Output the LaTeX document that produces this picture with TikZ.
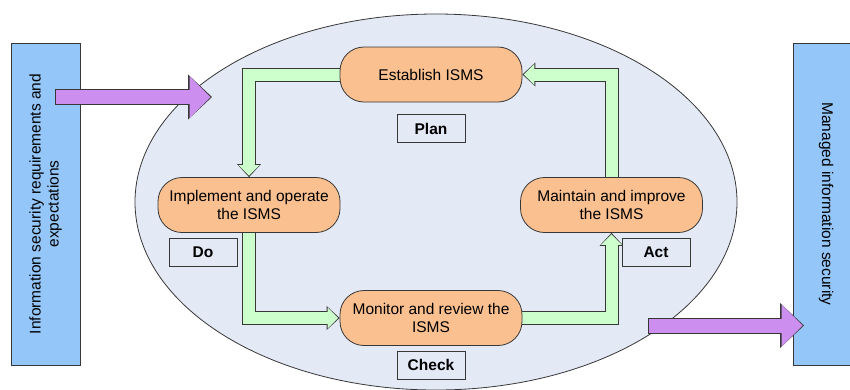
\documentclass[tikz,border=0pt]{standalone}
\usepackage{fontspec}
\setmainfont{Liberation Sans}
\usetikzlibrary{arrows.meta,positioning}
\pgfdeclarelayer{back}
\pgfdeclarelayer{mid}
\pgfsetlayers{back,mid,main}
\definecolor{oval}{RGB}{228,233,246}
\definecolor{stageorange}{RGB}{250,192,144}
\definecolor{cyclegreen}{RGB}{204,255,204}
\definecolor{flowpurple}{RGB}{204,143,240}
\definecolor{sideblue}{RGB}{148,198,250}
\definecolor{linegrey}{RGB}{55,55,55}
\begin{document}
\begin{tikzpicture}[x=1pt,y=-1pt,font=\fontsize{15.5}{18}\selectfont,
    stage/.style={draw=linegrey,fill=stageorange,line width=0.8pt,rounded corners=24pt,
        minimum width=182pt,minimum height=55pt,align=center,inner sep=2pt},
    tag/.style={draw=linegrey,fill=oval,line width=0.8pt,minimum width=68pt,
        minimum height=28pt,font=\fontsize{15.5}{18}\selectfont\bfseries},
    side/.style={draw=linegrey,fill=sideblue,line width=0.8pt,minimum width=322pt,align=center},
    cycarrow/.style={draw=cyclegreen,line width=12pt,shorten >=1.4pt,
        -{Triangle[width=21pt,length=10.6pt,line width=0pt 0 0]},
        preaction={draw=linegrey,line width=14pt,shorten >=0pt,
        -{Triangle[width=24pt,length=13pt,line width=0pt 0 0]}}},
    flowarrow/.style={draw=flowpurple,line width=14pt,shorten >=1.5pt,
        -{Triangle[width=42pt,length=21pt,line width=0pt 0 0]},
        preaction={draw=linegrey,line width=16pt,shorten >=0pt,shorten <=-0.8pt,
        -{Triangle[width=45pt,length=24pt,line width=0pt 0 0]}}}]
    \useasboundingbox (0,0) rectangle (850,389);
    \begin{pgfonlayer}{back}
        \draw[draw=linegrey,fill=oval,line width=0.8pt] (436,202) ellipse (301 and 188);
    \end{pgfonlayer}
    % outside boxes
    \node[side,rotate=90,minimum height=69pt] (req) at (45.5,204)
        {Information security requirements and\\expectations};
    \node[side,rotate=-90,minimum height=66pt] (managed) at (826,204)
        {Managed information security};
    % PDCA stages
    \node[stage] (est) at (431,74.5) {Establish ISMS};
    \node[stage] (imp) at (249,205) {Implement and operate\\the ISMS};
    \node[stage] (mon) at (431,318) {Monitor and review the\\ISMS};
    \node[stage] (mai) at (611.5,205) {Maintain and improve\\the ISMS};
    \node[tag,below=12pt of est] (plan) {Plan};
    \node[tag] (do) at (203,252.5) {Do};
    \node[tag,below=5pt of mon] (check) {Check};
    \node[tag] (act) at (656,252.5) {Act};
    \begin{pgfonlayer}{mid}
        \draw[cycarrow] (est.west) -| (imp.north);
        \draw[cycarrow] (imp.south) |- (mon.west);
        \draw[cycarrow] (mon.east) -| (mai.south);
        \draw[cycarrow] (mai.north) |- (est.east);
    \end{pgfonlayer}
    % in and out
    \coordinate (inS) at (56,97);
    \coordinate (inE) at (212,97);
    \coordinate (outS) at (649,325.5);
    \coordinate (outE) at (804,325.5);
    \draw[flowarrow] (inS) -- (inE);
    \draw[flowarrow] (outS) -- (outE);
\end{tikzpicture}
\end{document}
